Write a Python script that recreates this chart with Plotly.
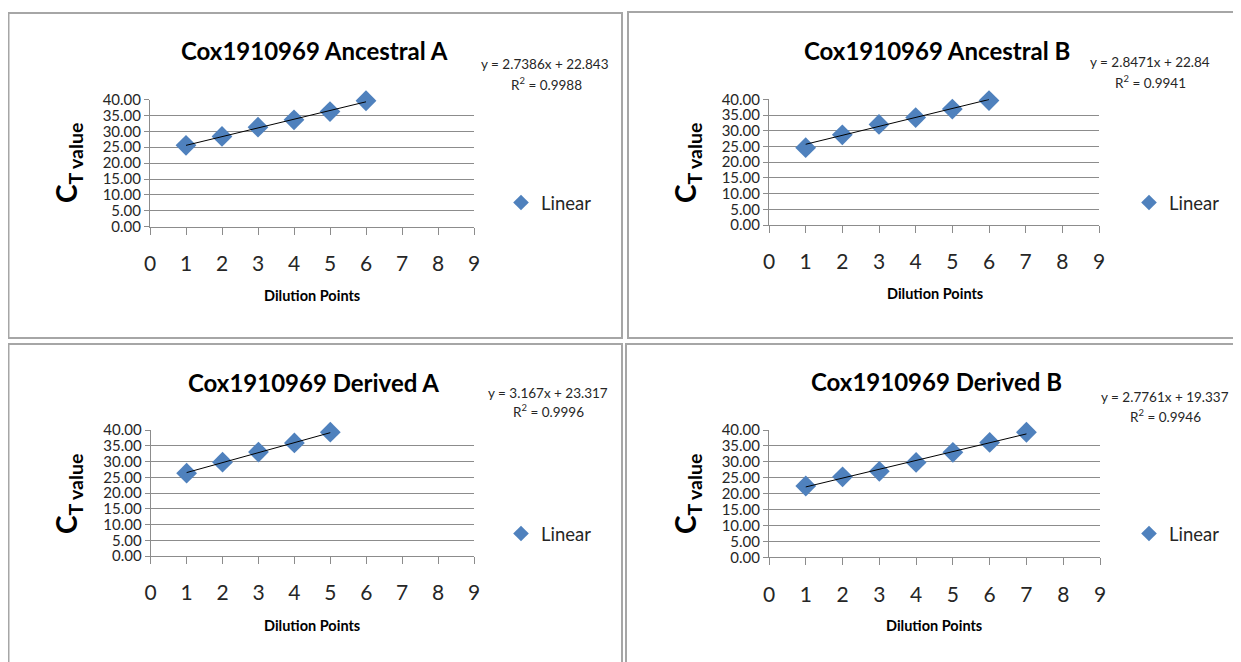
import plotly.graph_objects as go

# ---------------- data ----------------
titles = ["Cox1910969 Ancestral A", "Cox1910969 Ancestral B",
          "Cox1910969 Derived A", "Cox1910969 Derived B"]

x_anc_a = [1, 2, 3, 4, 5, 6]
ct_anc_a = [25.6, 28.4, 31.3, 33.6, 36.2, 39.6]

x_anc_b = [1, 2, 3, 4, 5, 6]
ct_anc_b = [24.6, 28.7, 32.0, 34.2, 36.9, 39.6]

x_der_a = [1, 2, 3, 4, 5]
ct_der_a = [26.3, 29.8, 33.0, 35.9, 39.3]

x_der_b = [1, 2, 3, 4, 5, 6, 7]
ct_der_b = [22.4, 25.3, 27.0, 29.8, 33.0, 36.1, 39.3]

slopes = [2.7386, 2.8471, 3.167, 2.7761]
intercepts = [22.843, 22.84, 23.317, 19.337]
eq_labels = ["y = 2.7386x + 22.843", "y = 2.8471x + 22.84",
             "y = 3.167x + 23.317", "y = 2.7761x + 19.337"]
r2_labels = ["0.9988", "0.9941", "0.9996", "0.9946"]

x_ticks = [0, 1, 2, 3, 4, 5, 6, 7, 8, 9]
y_ticks = [0, 5, 10, 15, 20, 25, 30, 35, 40]
legend_name = "Linear"
x_title = "Dilution Points"
y_title = "C<sub>T value</sub>"

series_x = [x_anc_a, x_anc_b, x_der_a, x_der_b]
series_y = [ct_anc_a, ct_anc_b, ct_der_a, ct_der_b]

# ---------------- layout geometry (page pixels) ----------------
W, H = 1241, 662
OFF = 8  # page body margin
FONT = "Lato"
BLUE = "#4f81bd"
GRID = "#8c8c8c"
TXT = "#262626"

# plot areas: (left, right, top, bottom) in px
plot_px = [(150, 474, 99.5, 226.7),
           (769, 1099, 99.3, 225.0),
           (150.7, 474, 430, 556),
           (769, 1100, 430, 557.3)]
title_px = [(314, 50), (937, 50), (313, 382), (936, 381)]
eq_px = [(545, 64), (1150, 62), (548, 393), (1165, 397)]
r2_px = [(546, 84), (1150, 82), (548, 411), (1165, 416)]
legend_px = [(597, 203), (1225, 203), (597, 534), (1225, 534)]
xtitle_px = [(312, 295), (935, 293), (312, 625), (934, 625)]
ytitle_px = [(68, 163), (687, 163), (68, 494), (687, 494)]
boxes_px = [(8.5, 622, 13, 338), (628, 1260, 12, 338),
            (8.5, 622, 344, 680), (626, 1260, 344, 680)]


def px(x):
    return (x - OFF) / W


def py(y):
    return 1 - (y - OFF) / H


fig = go.Figure()
annotations = []
shapes = []

for i in range(4):
    n = "" if i == 0 else str(i + 1)
    xa, ya = "x" + n, "y" + n
    leg = "legend" + n
    xs, ys = series_x[i], series_y[i]
    fig.add_trace(go.Scatter(
        x=xs, y=ys, mode="markers", name=legend_name,
        marker=dict(symbol="diamond", size=16, color=BLUE,
                    line=dict(width=0)),
        xaxis=xa, yaxis=ya, legend=leg, cliponaxis=False))
    x_line = [xs[0], xs[-1]]
    y_line = [slopes[i] * v + intercepts[i] for v in x_line]
    fig.add_trace(go.Scatter(
        x=x_line, y=y_line, mode="lines", showlegend=False,
        line=dict(color="#000000", width=1),
        xaxis=xa, yaxis=ya, cliponaxis=False))

    l, r, t, b = plot_px[i]
    fig.layout["xaxis" + n] = dict(
        domain=[px(l), px(r)], anchor=ya, range=[0, 9],
        tickmode="array", tickvals=x_ticks, ticktext=[str(v) for v in x_ticks],
        showgrid=False, zeroline=False, showline=True, linecolor=GRID,
        linewidth=1, ticks="outside", ticklen=7, tickcolor=GRID,
        tickfont=dict(family=FONT, size=21, color=TXT),
        ticklabelstandoff=11, fixedrange=True, automargin=False)
    fig.layout["yaxis" + n] = dict(
        domain=[py(b), py(t)], anchor=xa, range=[0, 40],
        tickmode="array", tickvals=y_ticks,
        ticktext=["%.2f" % v for v in y_ticks],
        showgrid=True, gridcolor=GRID, gridwidth=1, zeroline=False,
        showline=True, linecolor=GRID, linewidth=1, ticks="outside",
        ticklen=5, tickcolor=GRID,
        tickfont=dict(family=FONT, size=15, color=TXT), fixedrange=True,
        automargin=False)

    lx, lyy = legend_px[i]
    fig.layout[leg] = dict(
        x=px(lx), y=py(lyy), xanchor="right", yanchor="middle",
        bgcolor="rgba(0,0,0,0)", itemsizing="constant",
        font=dict(family=FONT, size=18.5, color=TXT), itemwidth=30)

    tx, ty = title_px[i]
    annotations.append(dict(
        x=px(tx), y=py(ty), xref="paper", yref="paper", showarrow=False,
        text="<b>" + titles[i] + "</b>", xanchor="center", yanchor="middle",
        font=dict(family=FONT, size=24, color="#000000")))
    ex, ey = eq_px[i]
    annotations.append(dict(
        x=px(ex), y=py(ey), xref="paper", yref="paper", showarrow=False,
        text=eq_labels[i], xanchor="center", yanchor="middle",
        font=dict(family=FONT, size=13.5, color=TXT)))
    rx, ry = r2_px[i]
    annotations.append(dict(
        x=px(rx), y=py(ry), xref="paper", yref="paper", showarrow=False,
        text="R<sup>2</sup> = " + r2_labels[i], xanchor="center",
        yanchor="middle", font=dict(family=FONT, size=13.5, color=TXT)))
    dx, dy = xtitle_px[i]
    annotations.append(dict(
        x=px(dx), y=py(dy), xref="paper", yref="paper", showarrow=False,
        text="<b>" + x_title + "</b>", xanchor="center", yanchor="middle",
        font=dict(family=FONT, size=14.5, color="#000000")))
    yx, yy = ytitle_px[i]
    annotations.append(dict(
        x=px(yx), y=py(yy), xref="paper", yref="paper", showarrow=False,
        text="<b>" + y_title + "</b>", textangle=-90,
        xanchor="center", yanchor="middle",
        font=dict(family=FONT, size=28, color="#000000")))

    bl, br, bt, bb = boxes_px[i]
    shapes.append(dict(type="rect", xref="paper", yref="paper",
                       x0=px(bl), x1=px(br), y0=py(bb), y1=py(bt),
                       line=dict(color="#a6a6a6", width=2),
                       fillcolor="rgba(0,0,0,0)", layer="below"))

fig.update_layout(
    width=W, height=H,
    margin=dict(l=0, r=0, t=0, b=0, pad=0, autoexpand=False),
    paper_bgcolor="#ffffff", plot_bgcolor="#ffffff",
    annotations=annotations, shapes=shapes, showlegend=True,
    font=dict(family=FONT, color=TXT))

fig.write_html("out.html", config={"displayModeBar": False})
